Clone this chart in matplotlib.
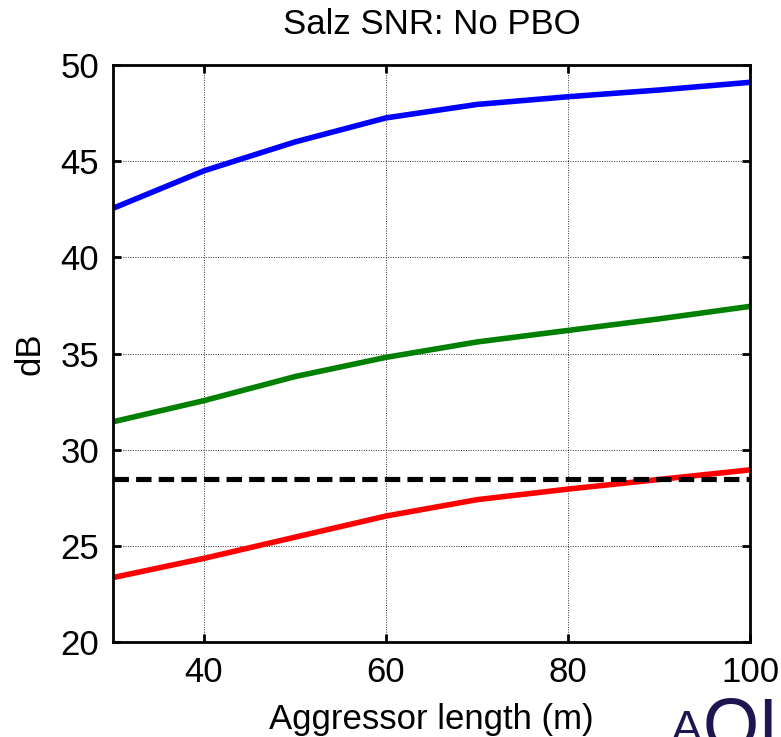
import matplotlib
matplotlib.use("Agg")
import matplotlib.pyplot as plt

# data
length = [30, 40, 50, 60, 70, 80, 90, 100]
snr_blue = [42.55, 44.5, 46.0, 47.25, 47.95, 48.35, 48.7, 49.1]
snr_green = [31.45, 32.55, 33.8, 34.8, 35.6, 36.2, 36.8, 37.45]
snr_red = [23.35, 24.35, 25.45, 26.55, 27.4, 27.95, 28.45, 28.95]
threshold = 28.5

xticks = [40, 60, 80, 100]
yticks = [20, 25, 30, 35, 40, 45, 50]

plt.rcParams['font.family'] = ['Liberation Sans', 'DejaVu Sans']

fig = plt.figure(figsize=(7.81, 7.37), dpi=100)
ax = fig.add_axes([0.1447, 0.1289, 0.8156, 0.7829])

ax.plot(length, snr_blue, color='#0000ff', lw=4)
ax.plot(length, snr_green, color='#008000', lw=4)
ax.plot(length, snr_red, color='#ff0000', lw=4)
ax.axhline(threshold, color='black', lw=3.7, dashes=(3, 1.4))

ax.set_xlim(30, 100)
ax.set_ylim(20, 50)
ax.set_xticks(xticks)
ax.set_yticks(yticks)
ax.grid(True, color='#333333', linestyle=(0, (1, 1.5)), lw=0.7)
ax.tick_params(direction='in', top=True, right=True, length=6, width=2,
               labelsize=25, pad=10)
for sp in ax.spines.values():
    sp.set_linewidth(2)

ax.set_title('Salz SNR: No PBO', fontsize=25, pad=22)
ax.set_xlabel('Aggressor length (m)', fontsize=25, labelpad=10)
ax.set_ylabel('dB', fontsize=25, labelpad=10)

# cut-off logo at the bottom right corner
logo = '#1e1650'
fig.text(671 / 781, 1 - 709 / 737, 'A', fontsize=34, color=logo, va='top', ha='left')
fig.text(703 / 781, 1 - 696 / 737, 'QI', fontsize=52, color=logo, va='top', ha='left')

fig.savefig('out.png', dpi=100)
